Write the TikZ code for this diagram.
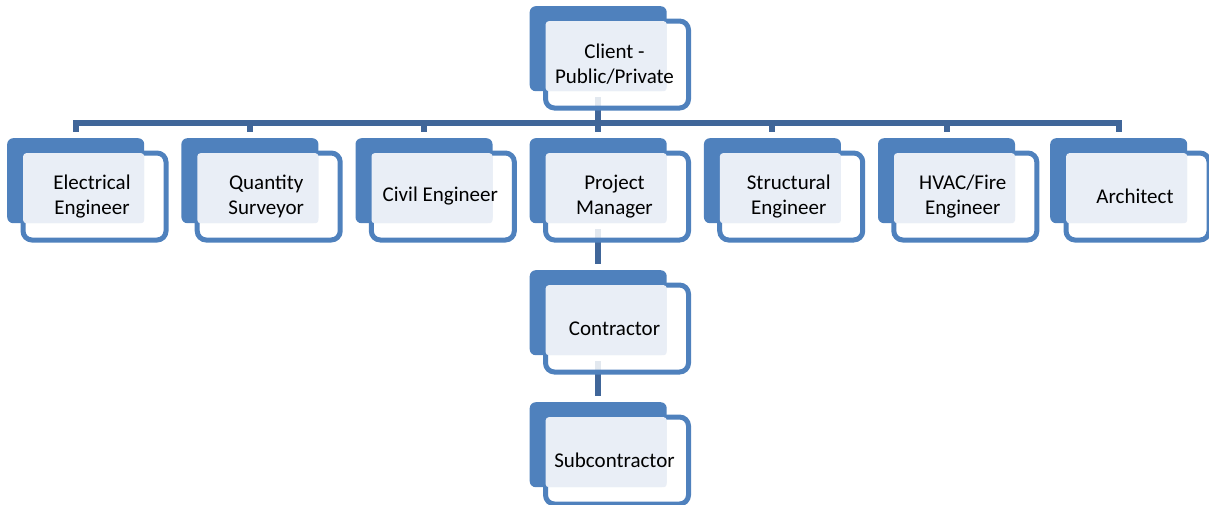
\documentclass[tikz,border=0pt]{standalone}
\usepackage{fontspec}
\setmainfont{Carlito}
\usetikzlibrary{calc,backgrounds}

\definecolor{accent}{RGB}{79,129,189}
\definecolor{linkblue}{RGB}{64,102,153}
\definecolor{paneltint}{RGB}{233,238,246}

\tikzset{
  backbox/.style={fill=accent, draw=none, rounded corners=6pt, inner sep=0pt,
    minimum width=137pt, minimum height=85pt, anchor=north west},
  frontbox/.style={draw=accent, line width=5pt, fill=white, fill opacity=0.85,
    rounded corners=9pt, inner sep=0pt, minimum width=143pt, minimum height=87pt,
    anchor=north west},
  tintbox/.style={fill=paneltint, draw=none, rounded corners=3pt,
    inner sep=0pt, minimum width=121pt, minimum height=70pt, anchor=north west},
  unitlabel/.style={align=center, text=black, inner sep=0pt,
    font=\fontsize{21}{25}\selectfont},
  conn/.style={draw=linkblue, line width=6pt}
}

% one unit of the chart: #1 name, #2/#3 top-left corner of the back panel, #4 text
\newcommand{\orgunit}[4]{%
  \node[backbox] (#1-b) at (#2,#3) {};
  \node[frontbox] (#1-f) at ({#2+13.5},{#3+12.5}) {};
  \node[tintbox] (#1-t) at ({#2+16},{#3+15}) {};
  \node[unitlabel] (#1) at ({#2+85},{#3+58.5}) {#4};
}

\begin{document}
\begin{tikzpicture}[x=1pt,y=-1pt]
  \useasboundingbox (0,0) rectangle (1209,504);

  \orgunit{client}{529.5}{6}{Client -\\Public/Private}

  \orgunit{elec}{7}{138}{Electrical\\Engineer}
  \orgunit{qs}{181.2}{138}{Quantity\\Surveyor}
  \orgunit{civil}{355.3}{138}{Civil Engineer}
  \orgunit{pm}{529.5}{138}{Project\\Manager}
  \orgunit{struct}{703.7}{138}{Structural\\Engineer}
  \orgunit{hvac}{877.8}{138}{HVAC/Fire\\Engineer}
  \orgunit{arch}{1050}{138}{Architect}

  \orgunit{contr}{529.5}{270}{Contractor}
  \orgunit{sub}{529.5}{402}{Subcontractor}

  \begin{pgfonlayer}{background}
    \coordinate (bar) at ([yshift=-32pt]client-b.south);
    \coordinate (cstart) at ([yshift=-6pt]client-b.south);
    \foreach \n in {elec,qs,civil,pm,struct,hvac,arch}{
      \draw[conn] (cstart) -- (bar) -| ([yshift=6pt]\n-b.north);
    }
    \draw[conn] ([yshift=-6pt]pm-b.south) -- ([yshift=6pt]contr-b.north);
    \draw[conn] ([yshift=-6pt]contr-b.south) -- ([yshift=6pt]sub-b.north);
  \end{pgfonlayer}
\end{tikzpicture}
\end{document}
